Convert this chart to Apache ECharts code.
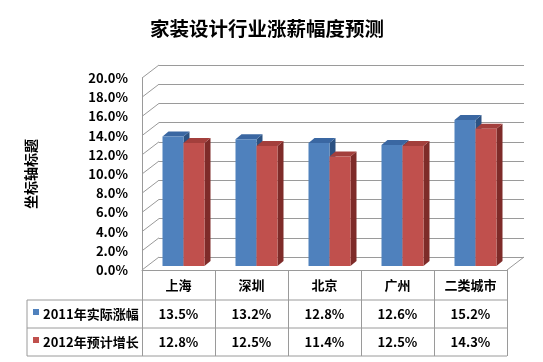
<!DOCTYPE html>
<html><head><meta charset="utf-8">
<script src="https://cdn.jsdelivr.net/npm/echarts@6/dist/echarts.min.js"></script>
<style>html,body{margin:0;padding:0;background:#fff}#c{width:543px;height:362px}</style>
</head><body><div id="c"></div>
<script>
// ---- data ----
const titleText = '家装设计行业涨薪幅度预测';
const yAxisTitle = '坐标轴标题';
const categories = ['上海', '深圳', '北京', '广州', '二类城市'];
const seriesNames = ['2011年实际涨幅', '2012年预计增长'];
const values2011 = [13.5, 13.2, 12.8, 12.6, 15.2];
const values2012 = [12.8, 12.5, 11.4, 12.5, 14.3];
const yTicks = [0, 2, 4, 6, 8, 10, 12, 14, 16, 18, 20];

// ---- styling / layout ----
const FONT = '"Noto Sans CJK SC", "Noto Sans", sans-serif';
const GRID_COLOR = '#9a9a9a';
const FRONT = { left: 142, top: 78, width: 365, height: 192 };
const DEPTH = [17, -13];      // back wall offset
const BAR_SHIFT = [5, -4];    // bar plane offset from front
const CAP = [6, -5];          // bar 3D depth
const BAR_W = 21;
const COLORS = [
  { front: '#4F81BD', top: '#3A67A2', side: '#2C5282' },
  { front: '#C0504D', top: '#A33F3C', side: '#7E2B29' }
];
const ROW_Y = [44, 72];       // table row centres below the floor line

const chart = echarts.init(document.getElementById('c'));

function barRender(sIdx) {
  return function (params, api) {
    const i = api.value(0), v = api.value(1);
    const base = api.coord([i, 0]);
    const top = api.coord([i, v]);
    const x0 = base[0] + BAR_SHIFT[0] - BAR_W + sIdx * BAR_W;
    const yb = base[1] + BAR_SHIFT[1];
    const yt = top[1] + BAR_SHIFT[1];
    const c = COLORS[sIdx];
    return {
      type: 'group',
      children: [
        { type: 'polygon', shape: { points: [[x0 + BAR_W, yt], [x0 + BAR_W + CAP[0], yt + CAP[1]], [x0 + BAR_W + CAP[0], yb + CAP[1]], [x0 + BAR_W, yb]] }, style: { fill: c.side } },
        { type: 'polygon', shape: { points: [[x0, yt], [x0 + CAP[0], yt + CAP[1]], [x0 + BAR_W + CAP[0], yt + CAP[1]], [x0 + BAR_W, yt]] }, style: { fill: c.top } },
        { type: 'rect', shape: { x: x0, y: yt, width: BAR_W, height: yb - yt }, style: { fill: c.front } }
      ]
    };
  };
}

const graphics = [];
// table horizontal lines and left edge
[300, 328, 356].forEach(y => graphics.push({ type: 'line', shape: { x1: 27, y1: y, x2: FRONT.left + FRONT.width, y2: y }, style: { stroke: GRID_COLOR, lineWidth: 1 }, silent: true }));
graphics.push({ type: 'line', shape: { x1: 27, y1: 300, x2: 27, y2: 356 }, style: { stroke: GRID_COLOR, lineWidth: 1 } });
seriesNames.forEach((n, k) => {
  const cy = 270 + ROW_Y[k];
  graphics.push({ type: 'rect', shape: { x: 33, y: cy - 5, width: 6, height: 6 }, style: { fill: COLORS[k].front } });
  graphics.push({ type: 'text', x: 43, y: cy, style: { text: n, font: 'bold 13px ' + FONT, fill: '#000', textVerticalAlign: 'middle', textAlign: 'left' } });
});

const option = {
  animation: false,
  backgroundColor: '#fff',
  title: {
    text: titleText, left: 262, top: 14, textAlign: 'center',
    textStyle: { fontFamily: FONT, fontWeight: 'bold', fontSize: 19.5, color: '#000' }
  },
  grid: [
    { left: FRONT.left, top: FRONT.top, width: FRONT.width, height: FRONT.height },
    { left: FRONT.left + DEPTH[0], top: FRONT.top + DEPTH[1], width: FRONT.width, height: FRONT.height }
  ],
  xAxis: [
    {
      type: 'category', gridIndex: 0, data: categories,
      axisLine: { show: true, lineStyle: { color: GRID_COLOR } },
      axisTick: { show: true, length: 86, lineStyle: { color: GRID_COLOR } },
      axisLabel: { margin: 9, fontFamily: FONT, fontWeight: 'bold', fontSize: 13, color: '#000' },
      splitLine: { show: false }
    },
    { type: 'category', gridIndex: 1, data: categories, show: false }
  ],
  yAxis: [
    {
      type: 'value', gridIndex: 0, min: 0, max: 20, interval: 2,
      name: yAxisTitle, nameLocation: 'middle', nameRotate: 90, nameGap: 104,
      nameTextStyle: { fontFamily: FONT, fontWeight: 'bold', fontSize: 14, color: '#000' },
      axisLine: { show: true, lineStyle: { color: GRID_COLOR } },
      axisTick: { show: false },
      splitLine: { show: false },
      axisLabel: { margin: 14, fontFamily: FONT, fontWeight: 'bold', fontSize: 13, color: '#000', formatter: v => v.toFixed(1) + '%' }
    },
    {
      type: 'value', gridIndex: 1, min: 0, max: 20, interval: 2,
      axisLine: { show: false }, axisTick: { show: false }, axisLabel: { show: false },
      splitLine: { show: true, lineStyle: { color: GRID_COLOR, width: 1 } }
    }
  ],
  graphic: graphics,
  series: [
    {
      type: 'custom', xAxisIndex: 0, yAxisIndex: 0, z: 1,
      data: yTicks.map(v => [0, v]),
      renderItem: function (params, api) {
        const p = api.coord([0, api.value(1)]);
        const bw = api.size([1, 0])[0];
        const x = p[0] - bw / 2;
        const children = [{ type: 'line', shape: { x1: x, y1: p[1], x2: x + DEPTH[0], y2: p[1] + DEPTH[1] }, style: { stroke: GRID_COLOR, lineWidth: 1 } }];
        if (api.value(1) === 0) {
          const r = api.coord([categories.length - 1, 0])[0] + bw / 2;
          children.push({ type: 'line', shape: { x1: r, y1: p[1], x2: r + DEPTH[0], y2: p[1] + DEPTH[1] }, style: { stroke: GRID_COLOR, lineWidth: 1 } });
        }
        return { type: 'group', children };
      }
    },
    {
      type: 'custom', name: seriesNames[0], xAxisIndex: 0, yAxisIndex: 0, z: 3,
      data: values2011.map((v, i) => [i, v]), renderItem: barRender(0)
    },
    {
      type: 'custom', name: seriesNames[1], xAxisIndex: 0, yAxisIndex: 0, z: 3,
      data: values2012.map((v, i) => [i, v]), renderItem: barRender(1)
    },
    {
      type: 'custom', xAxisIndex: 0, yAxisIndex: 0, z: 3,
      data: categories.map((c, i) => [i, values2011[i], values2012[i]]),
      renderItem: function (params, api) {
        const p = api.coord([api.value(0), 0]);
        return {
          type: 'group',
          children: [1, 2].map((k, j) => ({
            type: 'text', x: p[0], y: p[1] + ROW_Y[j],
            style: { text: api.value(k).toFixed(1) + '%', font: 'bold 13px ' + FONT, fill: '#000', textAlign: 'center', textVerticalAlign: 'middle' }
          }))
        };
      }
    }
  ]
};
chart.setOption(option);
</script>
</body></html>
